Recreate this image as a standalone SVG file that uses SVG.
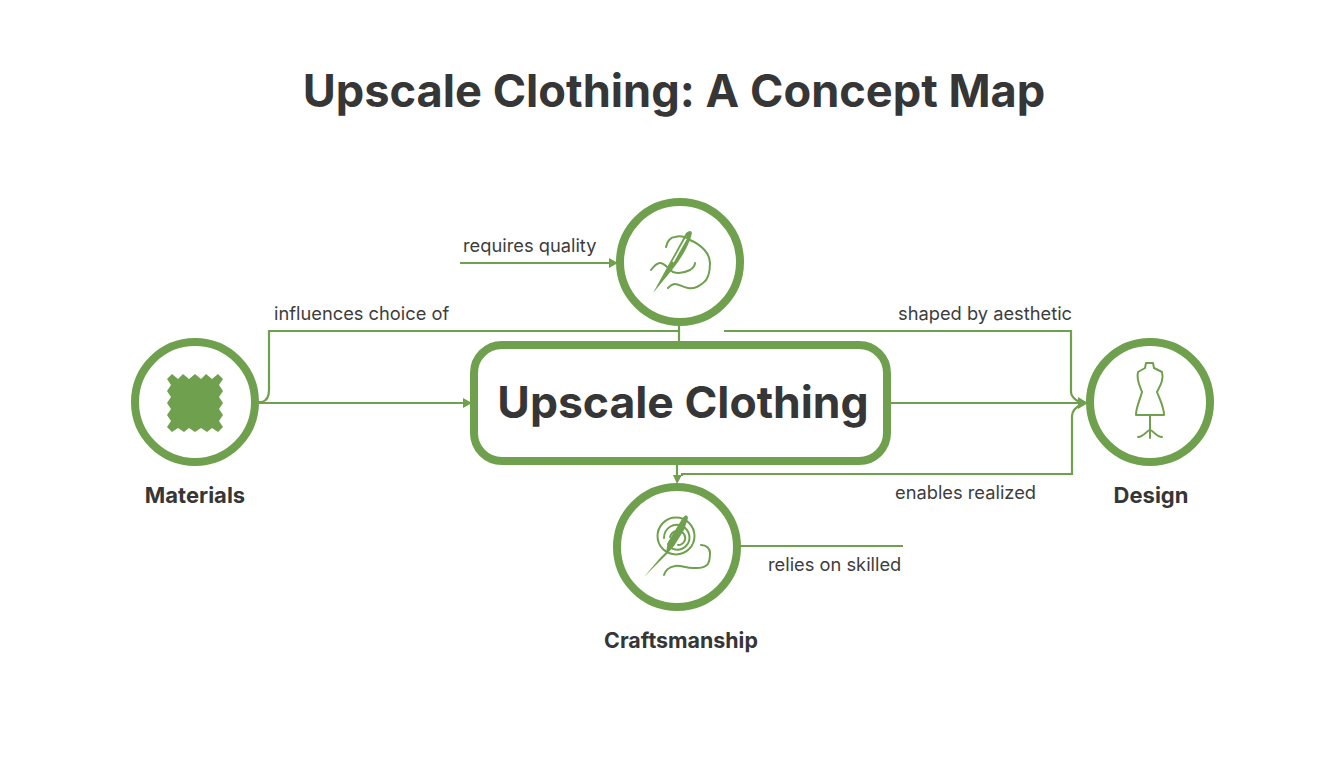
<svg xmlns="http://www.w3.org/2000/svg" width="1344" height="768" viewBox="0 0 1344 768">
<style>
.ring{fill:#fff;stroke:#6fa04d;stroke-width:8}
.c{fill:none;stroke:#6fa04d;stroke-width:2.2}
.i{fill:none;stroke:#6fa04d;stroke-width:2;stroke-linecap:round;stroke-linejoin:round}
.a{fill:#6fa04d}
text{font-family:Inter,"Liberation Sans",sans-serif;fill:#363636}
.l{font-size:18.3px;fill:#3d3d3d}
.n{font-size:22px;font-weight:700;text-anchor:middle}
</style>
<rect width="1344" height="768" fill="#fff"/>
<text x="674" y="107" text-anchor="middle" font-size="45.2" font-weight="700">Upscale Clothing: A Concept Map</text>
<g id="connectors">
<path class="c" d="M460 263H612"/><path class="a" d="M609 258l9 5-9 5z"/>
<path class="c" d="M258 402H262Q269 400 269 390V331H679M679 322V344"/>
<path class="c" d="M258 403H466"/><path class="a" d="M463 398l9 5-9 5z"/>
<path class="c" d="M724 331H1071V392Q1071 396 1076 400L1082 403"/>
<path class="c" d="M888 403H1082"/><path class="a" d="M1078 397l10 6-10 6z"/>
<path class="c" d="M682 476V474H1072V416Q1072 409 1082 404"/>
<path class="c" d="M677 464V478"/><path class="a" d="M673 475l4 9 5-9z"/>
<path class="c" d="M738 546H903"/>
</g>
<g id="upscale-clothing">
<rect x="474" y="345" width="413" height="116" rx="28" fill="#fff" stroke="#6fa04d" stroke-width="8"/>
<text x="683" y="418" text-anchor="middle" font-size="44.5" font-weight="700">Upscale Clothing</text>
</g>
<g id="quality-node">
<circle class="ring" cx="680" cy="262" r="60"/>
<path class="a" d="M653 293L686 233Q691 229 692 233Q688 250 672 270z"/>
<path d="M673 262L687 237" stroke="#fff" stroke-width="1.6"/>
<path class="i" d="M666 247C667 241 671 237 675 237C682 235 688 238 690 240C702 245 710 254 710 263C710 273 708 280 703 283C697 288 692 289 688 288C682 287 679 284 675 284C672 284 670 286 668 288M651 270C654 266 657 263 660 263C665 263 669 270 673 272C679 274 686 272 690 270C693 268 695 265 695 263"/>
</g>
<g id="materials">
<circle class="ring" cx="195" cy="402" r="60"/>
<path class="a" d="M167 379l5-5 6 5 5-5 6 5 6-5 6 5 5-5 6 5 6-5 5 5-4 6 4 6-4 6 4 6-4 6 4 6-4 6 4 6-5 5-6-4-5 4-6-4-6 4-6-4-5 4-6-4-6 4-5-5 4-6-4-6 4-6-4-6 4-6-4-6 4-6-4-6z"/>
<text class="n" x="195" y="503">Materials</text>
</g>
<g id="design">
<circle class="ring" cx="1150" cy="402" r="60"/>
<path class="i" d="M1146 363H1153L1154 368L1162 372C1164 380 1160 386 1157 392C1160 400 1164 407 1164 415H1136C1136 407 1140 400 1142 392C1140 386 1136 380 1138 372L1145 368ZM1150 415V438M1138 437C1144 437 1147 430 1150 430C1153 430 1156 437 1162 437"/>
<text class="n" x="1151" y="503">Design</text>
</g>
<g id="craftsmanship">
<circle class="ring" cx="677" cy="547" r="60"/>
<circle class="i" cx="676" cy="536" r="18.5"/><path class="i" d="M664 538C664 528 674 522 682 526C690 530 692 540 686 546C680 552 670 550 668 544M670 537C672 530 680 529 684 534C687 539 684 545 678 545"/>
<path class="a" d="M644 577L660 558L666 552L668 542L682 519Q687 512 688 518L684 530L674 546L668 553L663 558z"/>
<path class="i" d="M701 545C707 545 710 549 710 553C710 559 709 563 707 565C702 569 698 568 693 568C686 568 680 565 675 566C669 567 665 571 664 575"/>
<text class="n" x="681" y="648" style="font-size:21.4px">Craftsmanship</text>
</g>
<g id="labels">
<text class="l" x="463" y="252">requires quality</text>
<text class="l" x="274" y="320">influences choice of</text>
<text class="l" x="898" y="320">shaped by aesthetic</text>
<text class="l" x="895" y="499">enables realized</text>
<text class="l" x="768" y="571">relies on skilled</text>
</g>
</svg>
